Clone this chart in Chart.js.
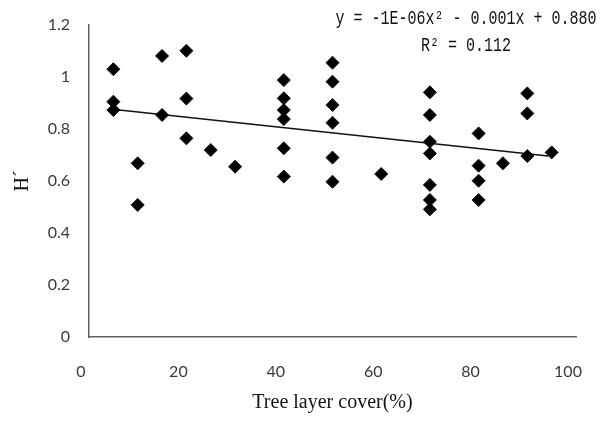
<!DOCTYPE html>
<html>
<head>
<meta charset="utf-8">
<script src="https://cdn.jsdelivr.net/npm/chart.js@4/dist/chart.umd.min.js"></script>
<style>
html,body{margin:0;padding:0;background:#fff;}
#wrap{width:600px;height:434px;position:relative;}
</style>
</head>
<body>
<div id="wrap"><canvas id="c" width="600" height="434"></canvas></div>
<script>
// Tree layer cover (%)
const coverX = [5,5,5, 10,10, 15,15, 20,20,20, 25, 30, 40,40,40,40,40,40, 50,50,50,50,50,50, 60, 70,70,70,70,70,70,70, 80,80,80,80, 85, 90,90,90, 95];
// H' values
const diversityH = [1.03,0.905,0.873, 0.668,0.508, 1.081,0.854, 1.101,0.917,0.764, 0.719, 0.655, 0.988,0.918,0.873,0.838,0.726,0.617, 1.055,0.982,0.892,0.824,0.690,0.597, 0.627, 0.941,0.854,0.751,0.706,0.585,0.527,0.491, 0.783,0.659,0.601,0.527, 0.668, 0.937,0.860,0.696, 0.710];
// Trend line end points
const trendX = [4.3, 94.3];
const trendY = [0.877, 0.696];
const equationLines = ["y = -1E-06x\u00B2 - 0.001x + 0.880", "R\u00B2 = 0.112"];
const xTitle = "Tree layer cover(%)";
const yTitle = "H\u00B4";

const scatterData = coverX.map((x, i) => ({x: x, y: diversityH[i]}));
const trendData = trendX.map((x, i) => ({x: x, y: trendY[i]}));

const equationPlugin = {
  id: 'equation',
  afterDraw(chart) {
    const ctx = chart.ctx;
    ctx.save();
    ctx.fillStyle = '#111';
    ctx.font = "15px 'Liberation Mono'";
    ctx.textAlign = 'center';
    ctx.textBaseline = 'middle';
    const ys = [19, 46];
    equationLines.forEach((t, i) => {
      ctx.save();
      ctx.translate(466, ys[i]);
      ctx.scale(1, 1.3);
      ctx.fillText(t, 0, 0);
      ctx.restore();
    });
    ctx.restore();
  }
};

new Chart(document.getElementById('c'), {
  type: 'scatter',
  data: {
    datasets: [
      {
        type: 'line',
        data: trendData,
        borderColor: '#111',
        borderWidth: 1.5,
        pointRadius: 0,
        fill: false,
        order: 2
      },
      {
        data: scatterData,
        pointStyle: 'rectRot',
        pointRadius: 6.5,
        pointBackgroundColor: '#000',
        pointBorderColor: '#0a0a1a',
        pointBorderWidth: 1,
        order: 1
      }
    ]
  },
  options: {
    responsive: false,
    animation: false,
    events: [],
    layout: { padding: { left: 0, right: 24, top: 25, bottom: 0 } },
    plugins: { legend: { display: false }, tooltip: { enabled: false } },
    scales: {
      x: {
        type: 'linear',
        min: 0, max: 100,
        grid: { display: false, drawTicks: false },
        border: { display: true, color: '#606060', width: 1.5 },
        ticks: { stepSize: 20, padding: 25, labelOffset: -8, color: '#3a3a3a', font: { family: 'Lato', size: 16 } },
        title: { display: true, text: xTitle, color: '#111', font: { family: 'Liberation Serif', size: 20 }, padding: { top: 0, bottom: 19 } },
        afterFit(s) { s.height = 434 - 337; s.paddingLeft = 0; s.paddingRight = 0; }
      },
      y: {
        type: 'linear',
        min: 0, max: 1.2,
        grid: { display: false, drawTicks: false },
        border: { display: true, color: '#606060', width: 1.5 },
        ticks: {
          stepSize: 0.2, padding: 19, color: '#3a3a3a', font: { family: 'Lato', size: 16 },
          callback: (v) => String(Number(v.toFixed(1)))
        },
        title: { display: true, text: yTitle, color: '#111', font: { family: 'Liberation Serif', size: 20 }, padding: { top: 11, bottom: 0 } },
        afterFit(s) { s.width = 89; s.paddingTop = 0; s.paddingBottom = 0; }
      }
    }
  },
  plugins: [equationPlugin]
});
</script>
</body>
</html>
